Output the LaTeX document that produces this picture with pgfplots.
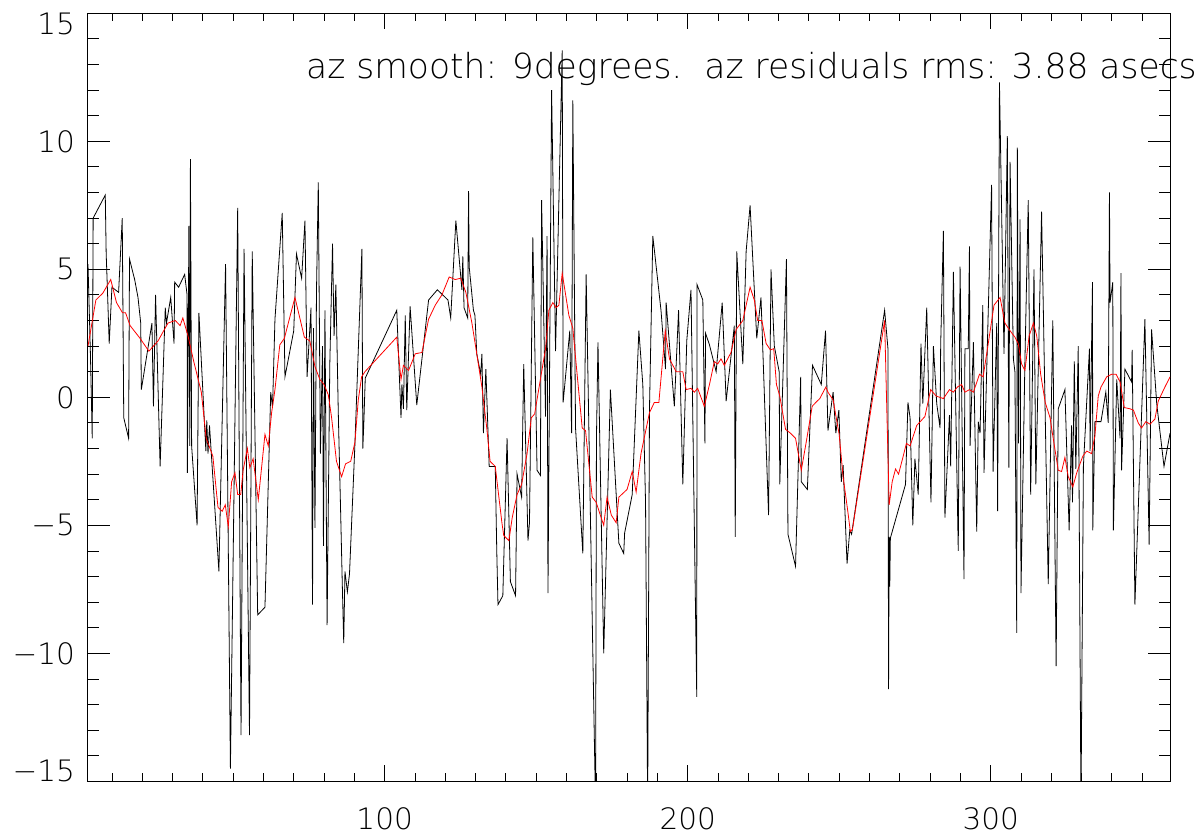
\documentclass[border=0pt]{standalone}
\usepackage{fontspec}
\setmainfont{DejaVu Sans ExtraLight}
\usepackage{pgfplots}
\pgfplotsset{compat=1.18}
\begin{document}
\begin{tikzpicture}[x=1pt,y=1pt]
\useasboundingbox (0,0) rectangle (1204,839);
\begin{axis}[
  at={(88pt,57.7pt)}, anchor=south west,
  scale only axis, width=1082pt, height=768pt,
  xmin=2.1, xmax=359.2, ymin=-15, ymax=15,
  xtick={0,100,200,300,400}, minor x tick num=9,
  ytick={-15,-10,-5,0,5,10,15}, minor y tick num=4,
  yticklabels={\raisebox{10pt}[\height][\depth]{−15},−10,−5,0,5,10,\raisebox{-10.5pt}[\height][\depth]{15}},
  axis line style={line width=1pt},
  tick style={line width=0.8pt, black},
  xtick style={/pgfplots/major tick length=16pt,/pgfplots/minor tick length=8pt},
  ytick style={/pgfplots/major tick length=21.7pt,/pgfplots/minor tick length=11pt},
  ticklabel style={font=\fontsize{29.5}{29.5}\selectfont},
  /pgf/number format/assume math mode=true,
  yticklabel style={inner sep=0pt, xshift=-13pt},
  xticklabel style={inner sep=0pt, yshift=-25.7pt},
]
\addplot[black, line width=0.8pt] coordinates {
(2.1,5.2)(2.9,1.7)(3.5,-1.6)(3.8,7.0)(7.8,7.9)(8.1,5.6)(8.4,4.6)(9.1,2.1)(10.0,4.3)(12.2,4.1)(13.4,7.0)(13.9,-0.8)(15.5,-1.6)(15.8,5.4)(17.5,4.6)(18.6,3.9)(19.5,2.9)(19.7,0.3)(23.2,2.9)(23.7,-0.35)(24.4,4.0)(25.9,-2.7)(27.6,3.5)(28.0,2.9)(29.4,3.9)(30.5,2.1)(30.7,4.5)(32.0,4.3)(34.0,4.8)(34.8,4.0)(34.9,-2.95)(35.4,6.7)(35.7,-1.9)(35.9,9.3)(36.3,-1.9)(38.1,-5.0)(38.7,3.3)(41.0,-2.1)(41.3,-0.9)(41.7,-2.2)(42.2,-1.1)(45.3,-6.8)(47.5,5.2)
(49.1,-14.5)(51.5,7.4)(52.6,-13.2)(53.6,5.8)(55.4,-13.2)(56.3,5.7)(58.1,-8.5)(60.5,-8.2)(62.4,0.2)(63.0,-0.4)(63.8,3.05)(66.2,7.2)(67.1,0.8)(70.0,2.6)(70.9,5.6)(72.6,4.65)(73.7,6.9)(74.4,0.8)(75.7,3.5)(76.2,-8.1)(76.5,2.7)(77.0,-5.1)(77.5,4.1)(78.1,8.4)(78.8,-2.2)(79.5,2.0)(79.8,-5.8)(80.3,3.4)(81.0,-8.9)(81.9,1.3)(82.8,6.0)(83.3,2.4)(83.9,4.4)(84.7,-0.6)(85.5,-4.6)(86.0,-7.2)(86.5,-9.6)(86.9,-6.8)(87.7,-7.6)(88.4,-6.9)(90.2,-1.8)(92.5,5.8)(92.8,-2.0)(93.1,-1.1)(93.6,0.75)
(104.0,3.4)(105.4,-0.8)(105.7,0.5)(106.2,-0.45)(106.8,3.2)(107.3,-0.5)(108.4,3.55)(110.6,-0.3)(112.5,1.7)(114.5,3.8)(117.4,4.2)(120.9,3.8)(121.8,3.1)(123.5,6.9)(125.5,4.2)(125.8,5.5)(126.2,3.5)(127.4,3.1)(127.7,8.05)(127.9,5.1)(129.3,3.4)(129.8,3.2)(130.4,1.7)(131.7,0.9)(132.1,1.7)(132.6,-1.4)(133.4,1.1)(134.5,-2.7)(136.5,-2.7)(137.0,-6.0)(137.4,-8.1)
(139.0,-7.75)(140.4,-1.6)(141.5,-7.2)(143.2,-7.75)(143.7,-3.0)(145.2,-3.9)(145.9,1.3)(147.3,-5.6)(147.8,-4.9)(148.9,6.25)(150.3,-2.85)(151.4,-3.05)(151.8,7.7)(153.1,-0.75)(153.6,6.3)(153.9,-7.65)(155.1,12.0)(156.4,1.8)(158.6,13.55)(158.9,-0.2)(161.1,2.6)(161.7,-1.4)(162.1,11.6)(163.0,-1.2)(165.4,-6.1)(166.5,4.8)(169.6,-16)(169.9,-1.6)(170.4,2.15)(172.3,-10.0)(174.5,0.3)(177.3,-5.7)(178.9,-6.1)(179.2,-5.3)(181.7,-3.8)
(183.9,2.6)(185.2,0.5)(186.1,-4.1)(186.8,-16)(187.4,-0.45)(188.5,6.3)(191.2,3.4)(192.7,1.1)(192.9,3.7)(195.6,-0.35)(197.0,3.4)(198.4,-3.4)(199.7,2.2)(201.1,4.2)(203.0,-11.7)(203.1,4.4)(205.0,3.8)(205.7,-1.8)(205.9,2.5)(207.2,2.05)(209.4,1.0)(211.4,3.7)(212.7,-0.15)(215.4,2.8)(215.7,-5.45)(216.2,5.7)(218.2,1.3)(219.3,5.7)(220.6,7.5)(222.8,2.3)(224.2,3.9)(226.7,-4.6)(227.5,5.0)(228.6,2.0)
(230.2,1.0)(230.4,-3.4)(232.6,5.4)(233.1,-5.35)(235.6,-6.6)(237.3,0.8)(237.5,-3.3)(239.5,-3.6)(241.2,1.25)(244.1,0.5)(245.5,2.6)(246.3,-1.3)(248.0,0.2)(248.9,-1.4)(249.9,-0.5)(250.7,-3.3)(251.3,-2.65)(252.6,-6.5)(253.5,-5.2)(254.1,-5.35)(265.0,3.4)(266.1,1.9)(266.3,-11.4)(266.5,-5.45)(266.7,-7.4)(266.9,-5.5)(271.9,-3.4)(272.7,-0.2)(273.4,-0.8)(274.3,-5.0)
(275.0,-2.4)(276.1,-3.8)(277.0,2.1)(277.6,-0.25)(278.9,3.5)(280.3,-4.1)(281.1,2.0)(282.2,-0.25)(283.3,-1.2)(283.5,2.05)(284.4,6.5)(284.9,-4.7)(286.4,-0.7)(286.8,-2.7)(287.7,4.9)(289.3,-6.0)(289.9,5.1)(291.2,-7.1)(291.5,1.9)(292.6,1.9)(293.0,5.9)(293.2,-1.9)(294.3,2.15)(295.4,-5.25)(295.9,-0.95)(296.5,-1.4)(297.4,3.6)(297.8,-2.95)(300.3,8.3)(300.8,-2.9)(302.0,2.9)(302.3,-4.45)(302.9,12.3)(304.4,1.7)(305.5,10.2)(306.0,-2.75)(306.4,9.2)(307.5,1.5)(308.0,1.0)(308.6,-9.2)(308.8,9.75)(309.2,-1.8)(309.7,6.95)(310.0,-7.65)(311.3,1.4)(312.4,7.7)(313.2,-3.8)(314.3,5.0)(314.9,-3.4)(316.8,7.25)
(319.0,-7.3)(320.5,3.0)(321.6,-10.5)(322.3,-0.45)(324.5,0.3)(325.9,-5.2)(326.7,-1.1)(327.0,-4.1)(327.6,1.4)(328.1,-2.8)(328.9,2.0)(329.8,-16)(330.6,-2.7)(332.6,1.9)(332.8,-2.1)(333.6,4.5)(333.7,-5.2)(334.4,-0.95)(336.4,-0.95)(338.0,0.2)(338.8,-1.0)(339.2,8.0)(339.4,3.7)(340.3,4.5)(340.5,-5.2)(341.6,0.7)(342.7,-1.6)(343.0,4.85)(343.2,-2.85)(344.3,1.1)(346.5,0.6)(346.7,1.85)(347.6,-8.1)(350.9,3.05)(352.3,-5.75)(353.1,2.65)(354.8,-0.25)(357.2,-2.7)(359.2,-1.4)
};
\addplot[red, line width=0.8pt] coordinates {
(2.1,2.0)(4.7,3.8)(7.0,4.07)(9.6,4.6)(11.5,3.7)(13.5,3.3)(14.5,3.3)(16.0,2.8)(19.3,2.3)(22.2,1.8)(25.2,2.2)(28.5,2.9)(30.9,3.0)(32.5,2.8)(33.4,3.1)(35.1,2.4)(37.0,1.4)(39.5,0.2)(41.1,-1.6)(43.3,-2.3)(45.0,-4.3)(46.4,-4.45)(47.4,-4.2)(48.4,-5.05)(49.5,-3.3)(50.6,-2.95)(51.5,-3.8)(52.5,-3.8)(53.3,-2.85)(54.7,-2.0)(55.5,-2.75)(56.6,-2.4)(58.3,-4.0)(59.6,-2.5)(60.5,-1.45)(61.6,-1.9)(62.7,-0.6)(63.8,0.3)(65.4,2.05)(66.9,2.3)(68.2,2.9)(70.4,3.9)(72.0,3.1)(73.5,2.35)(75.3,2.2)(77.0,1.2)(78.6,0.7)(80.0,0.5)(81.4,0.1)(82.5,-0.8)(84.1,-2.5)(85.8,-3.1)(87.1,-2.6)(88.8,-2.5)(90.2,-1.75)(91.3,-0.1)(92.4,0.8)(93.5,1.0)
(104.0,2.35)(105.4,0.7)(106.2,1.25)(107.9,1.05)(110.1,1.7)(112.3,1.75)(114.5,3.05)(116.7,3.6)(118.9,4.0)(121.3,4.7)(123.3,4.6)(125.1,4.65)(126.8,4.1)(128.8,2.9)(130.4,1.7)(132.1,0.4)(133.7,-1.2)(134.8,-2.5)(136.5,-2.7)(137.6,-3.8)(138.7,-4.9)(139.3,-5.4)(141.0,-5.6)(142.1,-4.7)(143.7,-3.8)(145.2,-3.4)(147.0,-2.2)(148.4,-0.8)(149.5,-0.65)(151.4,0.7)(153.1,1.9)(154.2,3.4)(155.5,3.7)(156.6,3.5)(157.5,3.6)(158.6,4.85)(160.8,3.2)(162.1,2.7)(163.2,1.3)(165.2,-1.2)(166.3,-1.3)(168.5,-3.9)(169.8,-4.1)(170.9,-4.5)(172.3,-5.0)(173.4,-3.9)(174.8,-4.6)(176.4,-4.9)(177.3,-3.9)(180.0,-3.6)(181.7,-2.9)(183.0,-3.7)(184.6,-2.2)(187.4,-0.6)(189.0,-0.2)(190.5,-0.2)(192.6,2.6)(194.0,1.5)(196.2,1.0)(198.4,1.0)(199.5,0.3)(201.1,0.35)(202.2,0.2)(203.3,0.35)(205.5,-0.35)(207.2,0.5)(208.8,1.4)(209.9,1.3)(211.0,1.5)(212.1,1.25)(214.3,1.75)(216.0,2.65)(218.2,3.0)(220.6,4.3)(222.0,3.8)(223.1,3.0)(224.5,3.0)(225.9,2.1)(227.3,1.85)(228.4,1.9)(229.3,0.5)(230.4,0.05)(232.3,-1.25)(233.9,-1.4)(235.6,-1.6)(237.5,-2.85)(239.2,-1.7)(241.1,-0.35)(242.3,-0.2)(243.6,-0.05)(245.6,0.4)(246.3,0.2)(248.0,-0.1)(250.0,-1.45)(251.3,-3.1)(252.9,-4.5)(253.7,-5.25)(254.4,-5.15)(265.0,3.0)(266.5,-4.2)(267.5,-3.3)(268.6,-2.8)(269.6,-3.0)(270.7,-2.5)(272.2,-1.8)(273.4,-1.9)(275.6,-1.1)(278.3,-0.75)(280.2,0.3)(282.0,0.05)(284.4,-0.05)(286.4,0.3)(287.7,0.2)(289.0,0.4)(290.4,0.5)(291.5,0.2)(293.0,0.3)(294.3,0.2)(296.3,0.9)(297.5,0.8)(299.2,2.1)(301.1,3.6)(303.1,3.9)(304.7,2.9)(306.4,2.6)(308.0,2.35)(309.1,2.1)(310.2,1.3)(311.3,1.05)(312.7,2.4)(314.1,2.9)(315.2,2.4)(316.5,0.9)(318.0,-0.2)(319.6,-0.8)(320.1,-1.2)(322.3,-2.85)(323.4,-2.9)(324.5,-2.35)(325.6,-3.1)(327.1,-3.5)(328.4,-2.95)(330.4,-2.3)(331.7,-2.1)(333.3,-2.2)(334.4,-1.5)(335.5,0.05)(336.4,0.4)(338.3,0.8)(339.9,0.9)(341.4,0.9)(342.7,0.6)(344.1,-0.4)(346.0,-0.45)(347.1,-0.5)(348.7,-1.0)(349.8,-1.2)(351.2,-0.95)(352.6,-1.05)(354.2,-0.85)(355.3,-0.15)(357.5,0.4)(359.2,0.8)
};
\end{axis}
\node[anchor=base west, inner sep=0pt, font=\fontsize{34.5}{34.5}\selectfont] at (306,760) {az smooth: 9degrees.\ \ az residuals rms: 3.88 asecs};
\end{tikzpicture}
\end{document}
